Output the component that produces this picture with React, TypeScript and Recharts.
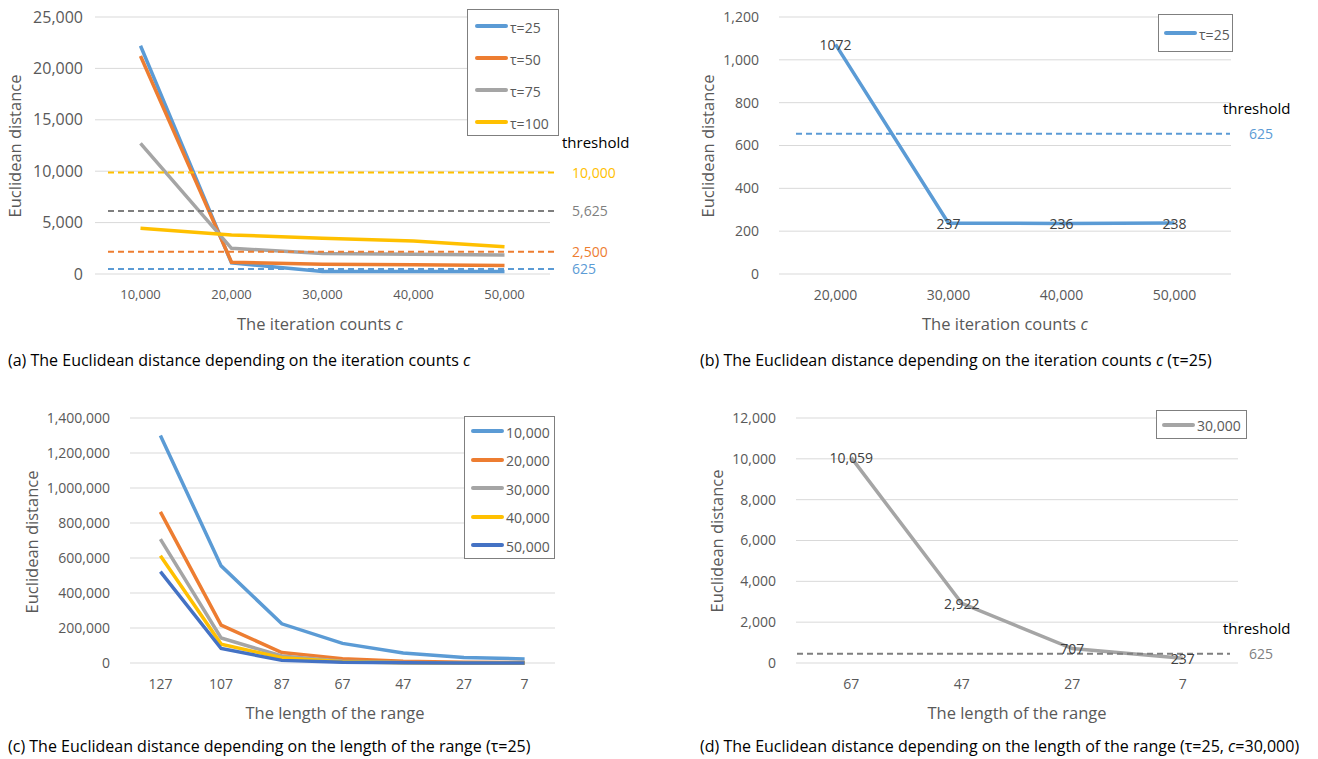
import React from "react";
import {
  LineChart,
  Line,
  XAxis,
  YAxis,
  CartesianGrid,
  ReferenceLine,
  Legend,
  LabelList,
} from "recharts";

const FONT = '"Open Sans", sans-serif';

// (a) distance by iteration count, one series per tau
const iterCounts = ["10,000", "20,000", "30,000", "40,000", "50,000"];
const tau25 = [22200, 1072, 237, 236, 238];
const tau50 = [21200, 1150, 950, 900, 820];
const tau75 = [12700, 2500, 2000, 1920, 1850];
const tau100 = [4450, 3800, 3480, 3200, 2650];
const thresholdLinesA = [9870, 6140, 2170, 490];
const thresholdLabelsA = ["10,000", "5,625", "2,500", "625"];

// (b) tau = 25 only
const iterCountsB = ["20,000", "30,000", "40,000", "50,000"];
const tau25B = [1072, 237, 236, 238];
const thresholdLineB = 655;

// (c) distance by range length, one series per iteration count
const rangeLengths = ["127", "107", "87", "67", "47", "27", "7"];
const c10000 = [1300000, 555000, 224000, 112000, 57000, 32000, 23000];
const c20000 = [864000, 216000, 60000, 25000, 10000, 5000, 3000];
const c30000 = [708000, 143000, 40000, 10059, 2922, 707, 237];
const c40000 = [613000, 108000, 30000, 7000, 2000, 500, 200];
const c50000 = [522000, 83000, 15000, 4000, 1200, 350, 150];

// (d) 30,000 only
const rangeLengthsD = ["67", "47", "27", "7"];
const c30000D = [10059, 2922, 707, 237];
const thresholdLineD = 450;

const BLUE = "#5B9BD5";
const ORANGE = "#ED7D31";
const GRAY = "#A5A5A5";
const YELLOW = "#FFC000";
const DARKBLUE = "#4472C4";
const DARKGRAY = "#7F7F7F";

const fmt = (v: number) => v.toLocaleString("en-US");

const dataA = iterCounts.map((c, i) => ({ c, t25: tau25[i], t50: tau50[i], t75: tau75[i], t100: tau100[i] }));
const dataB = iterCountsB.map((c, i) => ({ c, t25: tau25B[i] }));
const dataC = rangeLengths.map((c, i) => ({
  c,
  s10: c10000[i],
  s20: c20000[i],
  s30: c30000[i],
  s40: c40000[i],
  s50: c50000[i],
}));
const dataD = rangeLengthsD.map((c, i) => ({ c, s30: c30000D[i] }));

const seriesA = [
  { key: "t25", name: "τ=25", color: BLUE },
  { key: "t50", name: "τ=50", color: ORANGE },
  { key: "t75", name: "τ=75", color: GRAY },
  { key: "t100", name: "τ=100", color: YELLOW },
];
const seriesC = [
  { key: "s10", name: "10,000", color: BLUE },
  { key: "s20", name: "20,000", color: ORANGE },
  { key: "s30", name: "30,000", color: GRAY },
  { key: "s40", name: "40,000", color: YELLOW },
  { key: "s50", name: "50,000", color: DARKBLUE },
];
const thresholdColorsA = [YELLOW, DARKGRAY, ORANGE, BLUE];

const tick = (size: number) => ({ fill: "#595959", fontSize: size, fontFamily: FONT });

// dashed threshold line that runs a bit past the plot, with its value to the right
const dashShape =
  (color: string, dx1: number, dx2: number, label: string, labelDx: number, labelColor: string) =>
  (p: any) =>
    (
      <g>
        <line
          x1={p.x1 + dx1}
          y1={p.y1}
          x2={p.x2 + dx2}
          y2={p.y2}
          stroke={color}
          strokeWidth={2}
          strokeDasharray="6 4"
        />
        <text
          x={p.x2 + labelDx}
          y={p.y1}
          dominantBaseline="central"
          fill={labelColor}
          fontSize={14}
          fontFamily={FONT}
        >
          {label}
        </text>
      </g>
    );

const boxLegend =
  (items: { name: string; color: string }[], w: number, h: number, rowH: number, padTop: number, lineLeft: number) =>
  () =>
    (
      <div
        style={{
          width: w,
          height: h,
          boxSizing: "border-box",
          border: "1px solid #7F7F7F",
          paddingTop: padTop,
          background: "#fff",
        }}
      >
        {items.map((e) => (
          <div key={e.name} style={{ display: "flex", alignItems: "center", height: rowH }}>
            <span
              style={{ marginLeft: lineLeft, width: 33, height: 4, background: e.color, borderRadius: 2, flex: "none" }}
            />
            <span
              style={{
                marginLeft: 2,
                fontSize: 14,
                color: "#595959",
                fontFamily: FONT,
                whiteSpace: "nowrap",
                marginTop: 3,
                lineHeight: "18px",
              }}
            >
              {e.name}
            </span>
          </div>
        ))}
      </div>
    );

const dataLabel = (format: (v: number) => string) => (p: any) =>
  (
    <text
      x={p.x}
      y={p.y}
      textAnchor="middle"
      dominantBaseline="central"
      fill="#404040"
      fontSize={14}
      fontFamily={FONT}
    >
      {format(p.value)}
    </text>
  );

function Txt({
  x,
  y,
  children,
  color = "#595959",
  size = 16.5,
  center = false,
  rotate = false,
}: {
  x: number;
  y: number;
  children: React.ReactNode;
  color?: string;
  size?: number;
  center?: boolean;
  rotate?: boolean;
}) {
  let transform = "translateY(-50%)";
  if (center) transform = "translate(-50%, -50%)";
  if (rotate) transform = "translate(-50%, -50%) rotate(-90deg)";
  return (
    <div
      style={{
        position: "absolute",
        left: x,
        top: y,
        transform,
        color,
        fontSize: size,
        fontFamily: FONT,
        whiteSpace: "nowrap",
        lineHeight: "20px",
      }}
    >
      {children}
    </div>
  );
}

const box = (left: number, top: number): React.CSSProperties => ({ position: "absolute", left, top });

export default function App() {
  return (
    <div style={{ position: "absolute", left: 0, top: 0, width: 1318, height: 759, background: "#fff" }}>
      {/* (a) */}
      <div style={box(0, 0)}>
        <LineChart width={660} height={340} data={dataA} margin={{ top: 17, right: 110, bottom: 36, left: 0 }}>
          <CartesianGrid vertical={false} stroke="#D9D9D9" />
          <XAxis
            dataKey="c"
            axisLine={false}
            tickLine={false}
            tick={tick(13)}
            tickMargin={10}
            height={30}
            interval={0}
            padding={{ left: 45.5, right: 45.5 }}
          />
          <YAxis
            domain={[0, 25000]}
            ticks={[0, 5000, 10000, 15000, 20000, 25000]}
            axisLine={false}
            tickLine={false}
            tick={tick(16)}
            tickMargin={6}
            width={95}
            tickFormatter={fmt}
          />
          {seriesA.map((s) => (
            <Line
              key={s.key}
              dataKey={s.key}
              name={s.name}
              stroke={s.color}
              strokeWidth={3.5}
              dot={false}
              activeDot={false}
              isAnimationActive={false}
            />
          ))}
          {thresholdLinesA.map((v, i) => (
            <ReferenceLine
              key={i}
              y={v}
              shape={dashShape(thresholdColorsA[i], 13, 6, thresholdLabelsA[i], 22, thresholdColorsA[i])}
            />
          ))}
          <Legend
            layout="vertical"
            align="center"
            verticalAlign="middle"
            wrapperStyle={{ left: 467, top: 9, width: 92 }}
            content={boxLegend(seriesA, 92, 127, 32, 0, 7) as any}
          />
        </LineChart>
        <Txt x={562} y={142} color="#000" size={15}>
          threshold
        </Txt>
        <Txt x={320} y={324} center>
          The iteration counts <i>c</i>
        </Txt>
        <Txt x={15} y={146} rotate>
          Euclidean distance
        </Txt>
        <Txt x={8} y={360} color="#000" size={16}>
          (a) The Euclidean distance depending on the iteration counts <i>c</i>
        </Txt>
      </div>

      {/* (b) */}
      <div style={box(660, 0)}>
        <LineChart width={658} height={340} data={dataB} margin={{ top: 17, right: 87, bottom: 36, left: 0 }}>
          <CartesianGrid vertical={false} stroke="#D9D9D9" />
          <XAxis
            dataKey="c"
            axisLine={false}
            tickLine={false}
            tick={tick(14)}
            tickMargin={10}
            height={30}
            interval={0}
            padding={{ left: 56.5, right: 56.5 }}
          />
          <YAxis
            domain={[0, 1200]}
            ticks={[0, 200, 400, 600, 800, 1000, 1200]}
            axisLine={false}
            tickLine={false}
            tick={tick(14)}
            tickMargin={14}
            width={119}
            tickFormatter={fmt}
          />
          <Line
            dataKey="t25"
            name="τ=25"
            stroke={BLUE}
            strokeWidth={3.5}
            dot={false}
            activeDot={false}
            isAnimationActive={false}
          >
            <LabelList dataKey="t25" content={dataLabel((v) => String(v)) as any} />
          </Line>
          <ReferenceLine y={thresholdLineB} shape={dashShape(BLUE, 17, -1, "625", 18, BLUE)} />
          <Legend
            layout="vertical"
            align="center"
            verticalAlign="middle"
            wrapperStyle={{ left: 498, top: 14, width: 75 }}
            content={boxLegend([{ name: "τ=25", color: BLUE }], 75, 38, 36, 0, 5) as any}
          />
        </LineChart>
        <Txt x={563} y={108} color="#000" size={15}>
          threshold
        </Txt>
        <Txt x={345} y={324} center>
          The iteration counts <i>c</i>
        </Txt>
        <Txt x={48} y={146} rotate>
          Euclidean distance
        </Txt>
        <Txt x={40} y={360} color="#000" size={16}>
          (b) The Euclidean distance depending on the iteration counts <i>c</i> (τ=25)
        </Txt>
      </div>

      {/* (c) */}
      <div style={box(0, 380)}>
        <LineChart width={660} height={340} data={dataC} margin={{ top: 38, right: 105, bottom: 27, left: 0 }}>
          <CartesianGrid vertical={false} stroke="#D9D9D9" />
          <XAxis
            dataKey="c"
            axisLine={false}
            tickLine={false}
            tick={tick(14)}
            tickMargin={10}
            height={30}
            interval={0}
            padding={{ left: 30.4, right: 30.4 }}
          />
          <YAxis
            domain={[0, 1400000]}
            ticks={[0, 200000, 400000, 600000, 800000, 1000000, 1200000, 1400000]}
            axisLine={false}
            tickLine={false}
            tick={tick(14)}
            tickMargin={14}
            width={130}
            tickFormatter={fmt}
          />
          {seriesC.map((s) => (
            <Line
              key={s.key}
              dataKey={s.key}
              name={s.name}
              stroke={s.color}
              strokeWidth={3.5}
              dot={false}
              activeDot={false}
              isAnimationActive={false}
            />
          ))}
          <Legend
            layout="vertical"
            align="center"
            verticalAlign="middle"
            wrapperStyle={{ left: 464, top: 36, width: 91 }}
            content={boxLegend(seriesC, 91, 143, 28.5, 0, 6) as any}
          />
        </LineChart>
        <Txt x={335} y={333} center>
          The length of the range
        </Txt>
        <Txt x={32} y={162} rotate>
          Euclidean distance
        </Txt>
        <Txt x={8} y={366} color="#000" size={16}>
          (c) The Euclidean distance depending on the length of the range (τ=25)
        </Txt>
      </div>

      {/* (d) */}
      <div style={box(660, 380)}>
        <LineChart width={658} height={340} data={dataD} margin={{ top: 38, right: 80, bottom: 27, left: 0 }}>
          <CartesianGrid vertical={false} stroke="#D9D9D9" />
          <XAxis
            dataKey="c"
            axisLine={false}
            tickLine={false}
            tick={tick(14)}
            tickMargin={10}
            height={30}
            interval={0}
            padding={{ left: 55.25, right: 55.25 }}
          />
          <YAxis
            domain={[0, 12000]}
            ticks={[0, 2000, 4000, 6000, 8000, 10000, 12000]}
            axisLine={false}
            tickLine={false}
            tick={tick(14)}
            tickMargin={14}
            width={136}
            tickFormatter={fmt}
          />
          <Line
            dataKey="s30"
            name="30,000"
            stroke={GRAY}
            strokeWidth={3.5}
            dot={false}
            activeDot={false}
            isAnimationActive={false}
          >
            <LabelList dataKey="s30" content={dataLabel(fmt) as any} />
          </Line>
          <ReferenceLine y={thresholdLineD} shape={dashShape(DARKGRAY, 1, -8, "625", 11, "#808080")} />
          <Legend
            layout="vertical"
            align="center"
            verticalAlign="middle"
            wrapperStyle={{ left: 496, top: 30, width: 91 }}
            content={boxLegend([{ name: "30,000", color: GRAY }], 91, 29, 27, 0, 5) as any}
          />
        </LineChart>
        <Txt x={563} y={248} color="#000" size={15}>
          threshold
        </Txt>
        <Txt x={357} y={333} center>
          The length of the range
        </Txt>
        <Txt x={57} y={161} rotate>
          Euclidean distance
        </Txt>
        <Txt x={40} y={366} color="#000" size={16}>
          (d) The Euclidean distance depending on the length of the range (τ=25, <i>c</i>=30,000)
        </Txt>
      </div>
    </div>
  );
}
